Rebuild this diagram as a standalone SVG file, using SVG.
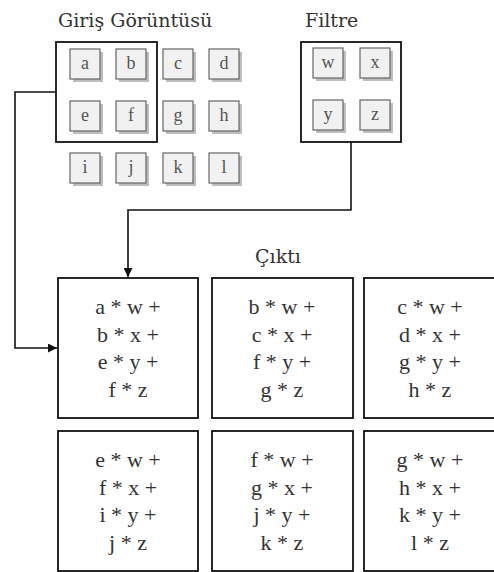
<svg xmlns="http://www.w3.org/2000/svg" width="494" height="572" viewBox="0 0 494 572">
  <style>
    .title { font-family: "DejaVu Serif", serif; font-size: 19px; fill: #333; }
    .cell-shadow { fill: #bdbdbd; }
    .cell { fill: #f1f1f1; stroke: #666; stroke-width: 1.2; }
    .cell-text { font-family: "Liberation Serif", serif; font-size: 18px; fill: #555; text-anchor: middle; }
    .frame { fill: none; stroke: #111; stroke-width: 1.8; }
    .out { fill: #fff; stroke: #111; stroke-width: 1.8; }
    .out-text { font-family: "Liberation Serif", serif; font-size: 22px; fill: #333; text-anchor: middle; }
    .wire { fill: none; stroke: #111; stroke-width: 1.6; }
  </style>
  <defs>
    <marker id="arrow" viewBox="0 0 10 10" refX="10" refY="5" markerWidth="11" markerHeight="9" markerUnits="userSpaceOnUse" orient="auto">
      <path d="M0,0 L10,5 L0,10 Z" fill="#111"/>
    </marker>
    <g id="cell">
      <rect class="cell-shadow" x="3" y="3" width="30" height="30"/>
      <rect class="cell" x="0" y="0" width="30" height="30"/>
    </g>
  </defs>
  <rect width="494" height="572" fill="#fff"/>

  <!-- input image -->
  <g id="input">
    <text class="title" x="58" y="27">Giriş Görüntüsü</text>
    <g id="cell-a"><use href="#cell" x="70" y="49"/><text class="cell-text" x="85" y="69">a</text></g>
    <g id="cell-b"><use href="#cell" x="116" y="49"/><text class="cell-text" x="131" y="69">b</text></g>
    <g id="cell-c"><use href="#cell" x="163" y="49"/><text class="cell-text" x="178" y="69">c</text></g>
    <g id="cell-d"><use href="#cell" x="209" y="49"/><text class="cell-text" x="224" y="69">d</text></g>
    <g id="cell-e"><use href="#cell" x="70" y="101"/><text class="cell-text" x="85" y="121">e</text></g>
    <g id="cell-f"><use href="#cell" x="116" y="101"/><text class="cell-text" x="131" y="121">f</text></g>
    <g id="cell-g"><use href="#cell" x="163" y="101"/><text class="cell-text" x="178" y="121">g</text></g>
    <g id="cell-h"><use href="#cell" x="209" y="101"/><text class="cell-text" x="224" y="121">h</text></g>
    <g id="cell-i"><use href="#cell" x="70" y="153"/><text class="cell-text" x="85" y="173">i</text></g>
    <g id="cell-j"><use href="#cell" x="116" y="153"/><text class="cell-text" x="131" y="173">j</text></g>
    <g id="cell-k"><use href="#cell" x="163" y="153"/><text class="cell-text" x="178" y="173">k</text></g>
    <g id="cell-l"><use href="#cell" x="209" y="153"/><text class="cell-text" x="224" y="173">l</text></g>
    <rect id="window" class="frame" x="56" y="42" width="101" height="100"/>
  </g>

  <!-- filter -->
  <g id="filter">
    <text class="title" x="305" y="27">Filtre</text>
    <rect class="frame" x="301" y="42" width="100" height="100"/>
    <g id="cell-w"><use href="#cell" x="313" y="48"/><text class="cell-text" x="328" y="68">w</text></g>
    <g id="cell-x"><use href="#cell" x="360" y="48"/><text class="cell-text" x="375" y="68">x</text></g>
    <g id="cell-y"><use href="#cell" x="313" y="100"/><text class="cell-text" x="328" y="120">y</text></g>
    <g id="cell-z"><use href="#cell" x="360" y="100"/><text class="cell-text" x="375" y="120">z</text></g>
  </g>

  <!-- output -->
  <text id="output-title" class="title" x="278" y="263" text-anchor="middle">Çıktı</text>
  <g id="out-1">
    <rect class="out" x="58" y="278" width="140" height="140"/>
    <text class="out-text" x="128" y="314">a * w +</text>
    <text class="out-text" x="128" y="342">b * x +</text>
    <text class="out-text" x="128" y="369">e * y +</text>
    <text class="out-text" x="128" y="397">f * z</text>
  </g>
  <g id="out-2">
    <rect class="out" x="212" y="278" width="141" height="140"/>
    <text class="out-text" x="282" y="314">b * w +</text>
    <text class="out-text" x="282" y="342">c * x +</text>
    <text class="out-text" x="282" y="369">f * y +</text>
    <text class="out-text" x="282" y="397">g * z</text>
  </g>
  <g id="out-3">
    <rect class="out" x="364" y="278" width="141" height="140"/>
    <text class="out-text" x="430" y="314">c * w +</text>
    <text class="out-text" x="430" y="342">d * x +</text>
    <text class="out-text" x="430" y="369">g * y +</text>
    <text class="out-text" x="430" y="397">h * z</text>
  </g>
  <g id="out-4">
    <rect class="out" x="58" y="431" width="140" height="140"/>
    <text class="out-text" x="128" y="467">e * w +</text>
    <text class="out-text" x="128" y="495">f * x +</text>
    <text class="out-text" x="128" y="522">i * y +</text>
    <text class="out-text" x="128" y="550">j * z</text>
  </g>
  <g id="out-5">
    <rect class="out" x="212" y="431" width="141" height="140"/>
    <text class="out-text" x="282" y="467">f * w +</text>
    <text class="out-text" x="282" y="495">g * x +</text>
    <text class="out-text" x="282" y="522">j * y +</text>
    <text class="out-text" x="282" y="550">k * z</text>
  </g>
  <g id="out-6">
    <rect class="out" x="364" y="431" width="141" height="140"/>
    <text class="out-text" x="430" y="467">g * w +</text>
    <text class="out-text" x="430" y="495">h * x +</text>
    <text class="out-text" x="430" y="522">k * y +</text>
    <text class="out-text" x="430" y="550">l * z</text>
  </g>

  <!-- connectors -->
  <g id="connectors">
    <path class="wire" d="M55,92 H15 V348 H57" marker-end="url(#arrow)"/>
    <path class="wire" d="M351,142 V210 H128 V277" marker-end="url(#arrow)"/>
  </g>
</svg>
